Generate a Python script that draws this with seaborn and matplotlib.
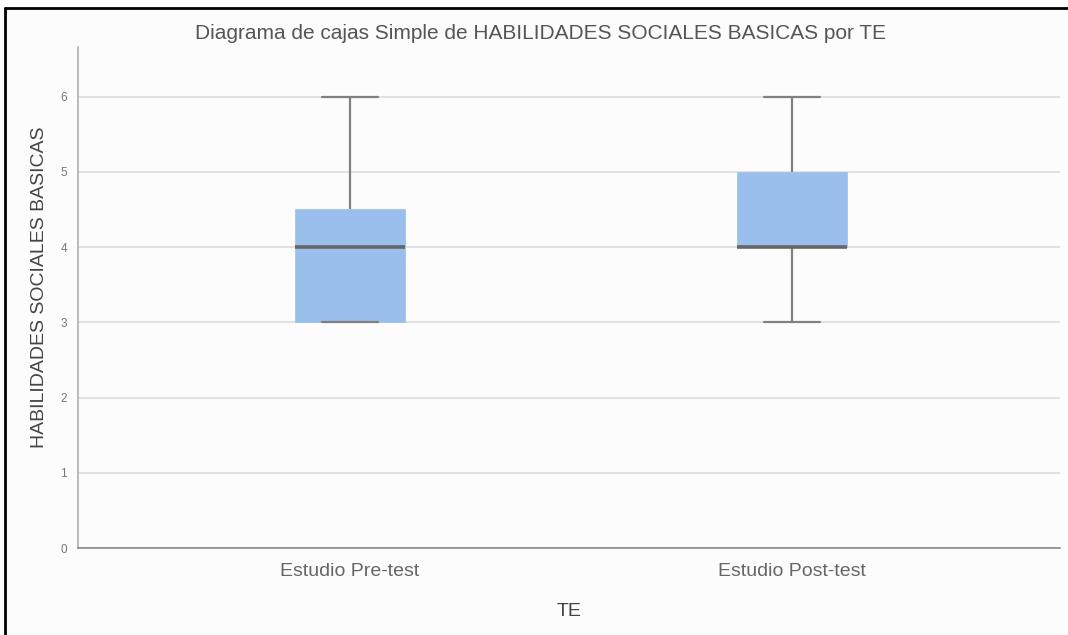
import numpy as np
import pandas as pd
import seaborn as sns
import matplotlib.pyplot as plt
from matplotlib.lines import Line2D

# Puntajes de habilidades sociales basicas por momento del estudio
groups = ["Estudio Pre-test", "Estudio Post-test"]
pre_test = [3, 3, 3, 4, 4, 5, 6]
post_test = [3, 4, 4, 4, 5, 5, 6]
y_ticks = [0, 1, 2, 3, 4, 5, 6]

title = "Diagrama de cajas Simple de HABILIDADES SOCIALES BASICAS por TE"
y_label = "HABILIDADES SOCIALES BASICAS"
x_label = "TE"


def main():
    data = pd.DataFrame({
        "TE": [groups[0]] * len(pre_test) + [groups[1]] * len(post_test),
        "HSB": pre_test + post_test,
    })

    sns.set_style("white")
    plt.rcParams["font.family"] = ["Liberation Sans", "DejaVu Sans"]

    fig = plt.figure(figsize=(10.68, 6.35), dpi=100)
    fig.patch.set_facecolor("#fcfcfc")
    ax = fig.add_axes([0.073, 0.137, 0.9195, 0.789])
    ax.set_facecolor("#fcfcfc")

    # grid lines behind the boxes
    ax.set_axisbelow(True)
    ax.yaxis.grid(True, color="#dadada", linewidth=1.1)

    box_color = "#9bbfec"
    sns.boxplot(x="TE", y="HSB", data=data, order=groups, ax=ax,
                width=0.25, whis=(0, 100), color=box_color,
                saturation=1, linewidth=1.5,
                boxprops=dict(facecolor=box_color, edgecolor=box_color,
                              linewidth=0.5),
                whiskerprops=dict(color="#808080", linewidth=1.6),
                capprops=dict(color="#808080", linewidth=1.6),
                medianprops=dict(color="#666666", linewidth=2.6),
                showfliers=False)

    ax.set_xlim(-0.615, 1.606)
    ax.set_ylim(0, 6.66)
    ax.set_yticks(y_ticks)
    ax.tick_params(axis="y", length=0, labelsize=8.5, labelcolor="#777777",
                   pad=8)
    ax.tick_params(axis="x", length=0, labelsize=14, labelcolor="#666666",
                   pad=11)

    for side in ["top", "right"]:
        ax.spines[side].set_visible(False)
    ax.spines["left"].set_color("#a8a8a8")
    ax.spines["bottom"].set_color("#808080")
    ax.spines["left"].set_linewidth(1.1)
    ax.spines["bottom"].set_linewidth(1.1)

    ax.set_xlabel(x_label, fontsize=14, color="#444444", labelpad=16)
    ax.set_ylabel(y_label, fontsize=14, color="#444444")
    ax.yaxis.set_label_coords(-0.031, 0.52)
    fig.text(0.506, 0.948, title, ha="center", va="center", fontsize=15,
             color="#555555")

    # black frame on top and left
    fig.add_artist(Line2D([5 / 1068, 1.0], [1 - 8 / 635, 1 - 8 / 635],
                          transform=fig.transFigure, color="black",
                          linewidth=2))
    fig.add_artist(Line2D([5 / 1068, 5 / 1068], [0, 1 - 8 / 635],
                          transform=fig.transFigure, color="black",
                          linewidth=2))

    fig.savefig("out.png", dpi=100, facecolor=fig.get_facecolor())


if __name__ == "__main__":
    main()
